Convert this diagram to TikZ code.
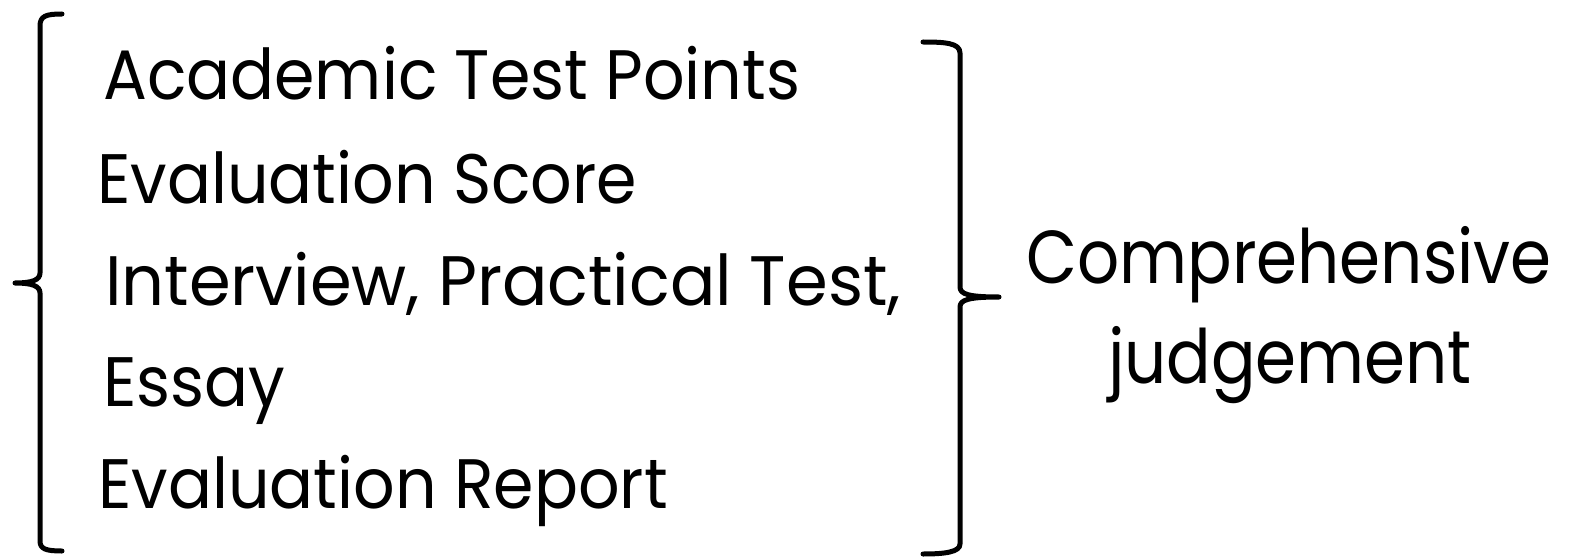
\documentclass[tikz,border=0pt]{standalone}
\usepackage{fontspec}
\setmainfont{Poppins}[FakeStretch=0.93]
\newfontfamily\judgefont{Poppins}[FakeStretch=0.88]
\newfontfamily\wideline{Poppins}[FakeStretch=0.96]
\begin{document}
\begin{tikzpicture}[x=1pt, y=-1pt,
  item/.style={anchor=base west, inner sep=0pt, font=\fontsize{70}{84}\selectfont},
  result/.style={anchor=base, inner sep=0pt, font=\judgefont\fontsize{75}{90}\selectfont},
  brace/.style={draw=black, line width=5pt, line cap=round, line join=round}]
\useasboundingbox (0,0) rectangle (1577,559);
% list of inputs
\node [item] (acad) at (103,100) {Academic Test Points};
\node [item] (score) at (97,204) {Evaluation Score};
\node [item, font=\wideline\fontsize{70}{84}\selectfont] (inter) at (105,305) {Interview, Practical Test,};
\node [item] (essay) at (103,406) {Essay};
\node [item] (report) at (98,508) {Evaluation Report};
% outcome
\node [result] (comp) at (1289,283) {Comprehensive};
\node [result] (judge) at (1290,383) {judgement};
% left brace
\coordinate (lt) at (62,14);
\coordinate (ltip) at (15,283);
\coordinate (lb) at (62,551);
\draw [brace] (lt) .. controls (46,14) and (40,16) .. (40,26) -- (40,273)
  .. controls (40,280) and (32,283) .. (ltip)
  .. controls (32,283) and (40,286) .. (40,293) -- (40,541)
  .. controls (40,549) and (46,551) .. (lb);
% right brace
\coordinate (rt) at (923,42);
\coordinate (rtip) at (999,297);
\coordinate (rb) at (923,554);
\draw [brace] (rt) .. controls (945,42) and (960,43) .. (960,53) -- (960,287)
  .. controls (960,294) and (968,297) .. (rtip)
  .. controls (968,297) and (960,300) .. (960,307) -- (960,544)
  .. controls (960,552) and (945,554) .. (rb);
\end{tikzpicture}
\end{document}
